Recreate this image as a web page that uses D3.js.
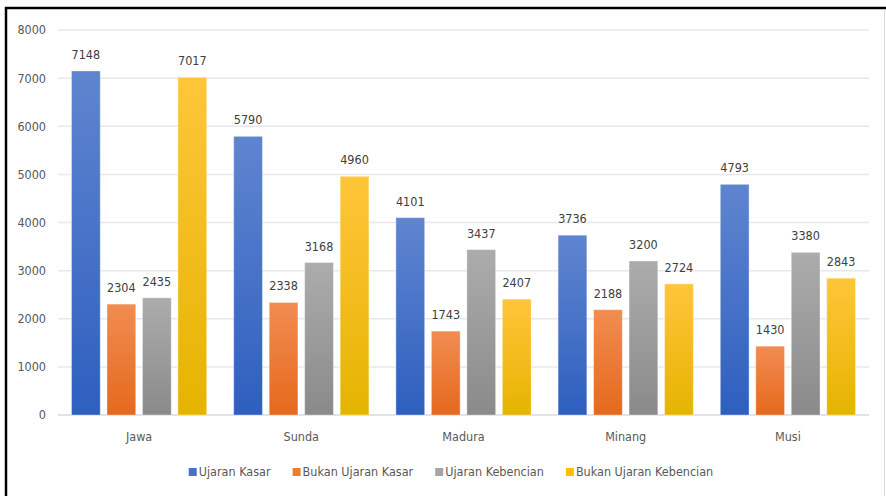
<!DOCTYPE html>
<html>
<head>
<meta charset="utf-8">
<script src="https://cdn.jsdelivr.net/npm/d3@7"></script>
<style>
  body { margin: 0; background: #fff; }
  svg text { font-family: "Liberation Sans Narrow", "DejaVu Sans Condensed", "Liberation Sans", sans-serif; }
</style>
</head>
<body>
<svg></svg>
<script>
const width = 886;
const height = 496;

// data
const categories = ['Jawa', 'Sunda', 'Madura', 'Minang', 'Musi'];
const seriesNames = ['Ujaran Kasar', 'Bukan Ujaran Kasar', 'Ujaran Kebencian', 'Bukan Ujaran Kebencian'];
const ujaranKasar = [7148, 5790, 4101, 3736, 4793];
const bukanUjaranKasar = [2304, 2338, 1743, 2188, 1430];
const ujaranKebencian = [2435, 3168, 3437, 3200, 3380];
const bukanUjaranKebencian = [7017, 4960, 2407, 2724, 2843];
const yTicks = [0, 1000, 2000, 3000, 4000, 5000, 6000, 7000, 8000];

const seriesValues = [ujaranKasar, bukanUjaranKasar, ujaranKebencian, bukanUjaranKebencian];
// [top, bottom] of each bar gradient
const colors = [
    ['#5f85cf', '#2e5fbf'],
    ['#f28c52', '#e5691c'],
    ['#acacac', '#8a8a8a'],
    ['#ffc53a', '#e5b400']
];
const legendColors = ['#4472c4', '#ed7d31', '#a5a5a5', '#ffc000'];

const margin = {top: 30, right: 17, bottom: 81, left: 58};

const svg = d3.select('svg')
    .attr('width', width).attr('height', height);

// gradients
const defs = svg.append('defs');
colors.forEach((c, i) => {
    const g = defs.append('linearGradient')
        .attr('id', 'grad' + i)
        .attr('x1', 0).attr('y1', 0).attr('x2', 0).attr('y2', 1);
    g.append('stop').attr('offset', '0%').attr('stop-color', c[0]);
    g.append('stop').attr('offset', '100%').attr('stop-color', c[1]);
});

// frame
svg.append('line')
    .attr('x1', 5).attr('x2', width).attr('y1', 8).attr('y2', 8)
    .style('stroke', '#000').style('stroke-width', 2.5);
svg.append('line')
    .attr('x1', 6).attr('x2', 6).attr('y1', 7).attr('y2', height)
    .style('stroke', '#000').style('stroke-width', 2.5);
svg.append('line')
    .attr('x1', 884.5).attr('x2', 884.5).attr('y1', 9).attr('y2', height)
    .style('stroke', '#d9d9d9').style('stroke-width', 1);

const x = d3.scaleBand()
    .domain(categories)
    .range([margin.left, width - margin.right]);

const xInner = d3.scaleBand()
    .domain(d3.range(seriesNames.length))
    .range([13.5, x.bandwidth() - 13.5])
    .paddingInner(0.19);

const y = d3.scaleLinear()
    .domain([0, 8000])
    .range([height - margin.bottom, margin.top]);

// gridlines
svg.append('g')
    .selectAll('line')
    .data(yTicks)
    .enter().append('line')
    .attr('x1', margin.left).attr('x2', width - margin.right)
    .attr('y1', d => y(d)).attr('y2', d => y(d))
    .style('stroke', d => d === 0 ? '#d6dbe3' : '#e6e8ec')
    .style('stroke-width', 1.5);

// y tick labels
svg.append('g')
    .selectAll('text')
    .data(yTicks)
    .enter().append('text')
    .attr('x', 46)
    .attr('y', d => y(d))
    .attr('dy', '0.35em')
    .attr('text-anchor', 'end')
    .style('font-size', '12.5px')
    .style('fill', '#595959')
    .text(d => d);

// bars
const groups = svg.append('g')
    .selectAll('g')
    .data(categories)
    .enter().append('g')
    .attr('transform', d => 'translate(' + x(d) + ',0)');

groups.selectAll('rect')
    .data((d, ci) => seriesValues.map((vals, si) => ({si: si, v: vals[ci]})))
    .enter().append('rect')
    .attr('x', d => xInner(d.si))
    .attr('width', xInner.bandwidth())
    .attr('y', d => y(d.v))
    .attr('height', d => y(0) - y(d.v))
    .style('fill', d => 'url(#grad' + d.si + ')')
    .style('stroke', 'rgba(255,255,255,0.35)')
    .style('stroke-width', 1);

groups.selectAll('text')
    .data((d, ci) => seriesValues.map((vals, si) => ({si: si, v: vals[ci]})))
    .enter().append('text')
    .attr('x', d => xInner(d.si) + xInner.bandwidth() / 2)
    .attr('y', d => y(d.v) - 12)
    .attr('text-anchor', 'middle')
    .style('font-size', '12.5px')
    .style('fill', '#404040')
    .text(d => d.v);

// category labels
svg.append('g')
    .selectAll('text')
    .data(categories)
    .enter().append('text')
    .attr('x', d => x(d) + x.bandwidth() / 2)
    .attr('y', 441)
    .attr('text-anchor', 'middle')
    .style('font-size', '12.5px')
    .style('fill', '#595959')
    .text(d => d);

// legend
const legend = svg.append('g');
let lx = 0;
seriesNames.forEach((name, i) => {
    const item = legend.append('g').attr('transform', 'translate(' + lx + ',0)');
    item.append('rect')
        .attr('x', 0).attr('y', -4)
        .attr('width', 8).attr('height', 8)
        .style('fill', legendColors[i]);
    const t = item.append('text')
        .attr('x', 10).attr('y', 0).attr('dy', '0.35em')
        .style('font-size', '12.5px')
        .style('fill', '#595959')
        .text(name);
    lx += 10 + t.node().getComputedTextLength() + 22;
});
const legendWidth = lx - 22;
legend.attr('transform', 'translate(' + ((185 + 717) / 2 - legendWidth / 2) + ',472)');
</script>
</body>
</html>
